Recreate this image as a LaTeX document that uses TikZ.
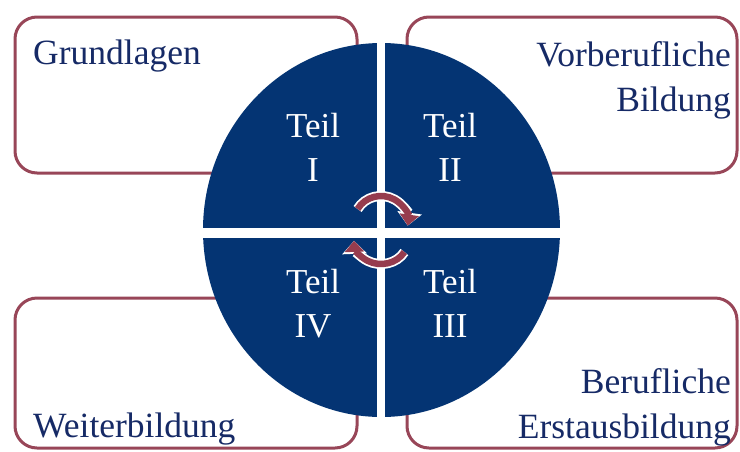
\documentclass[tikz,border=0pt]{standalone}
\usepackage{fontspec}
\setmainfont{Liberation Serif}
\usetikzlibrary{shapes.geometric,arrows.meta}
\definecolor{navy}{RGB}{4,52,115}
\definecolor{txtnavy}{RGB}{22,42,102}
\definecolor{maroon}{RGB}{152,70,88}
\definecolor{arrowred}{RGB}{150,60,78}
\begin{document}
\begin{tikzpicture}[x=1pt,y=-1pt,
  box/.style={draw=maroon, line width=3pt, rounded corners=22pt, fill=white, inner sep=0pt},
  lbl/.style={text=txtnavy, font=\fontsize{35.5}{45}\selectfont, inner sep=0pt},
  teil/.style={text=white, font=\fontsize{35}{44}\selectfont, align=center, inner sep=0pt, anchor=north},
  band/.style={fill=white, draw=none},
  cyc/.style={draw=arrowred, line width=6.5pt, -{Triangle[width=19pt,length=11pt]},
    preaction={draw=white, line width=10pt, -{Triangle[width=24pt,length=13pt]}}}
]
\useasboundingbox (0,0) rectangle (740,451);
% boxes
\node[box, minimum width=342pt, minimum height=156pt] (b1) at (186,95) {};
\node[box, minimum width=330pt, minimum height=156pt] (b2) at (572,95) {};
\node[box, minimum width=342pt, minimum height=150pt] (b4) at (186,373) {};
\node[box, minimum width=330pt, minimum height=150pt] (b3) at (572,373) {};
% labels
\node[lbl, anchor=base west] (l1) at (33,64) {Grundlagen};
\node[lbl, anchor=north east, align=right] (l2) at (731,41) {Vorberufliche\\Bildung};
\node[lbl, anchor=north east, align=right] (l3) at (731,368) {Berufliche\\Erstausbildung};
\node[lbl, anchor=base west] (l4) at (33,437) {Weiterbildung};
% circle
\node[ellipse, fill=navy, draw=none, minimum width=357pt, minimum height=374pt, inner sep=0pt] (circ) at (381.5,230) {};
\fill[band] (377,40) rectangle (384.5,420);
\fill[band] (200,228) rectangle (563,237.5);
% Teil labels
\node[teil] (t1) at (313,113) {Teil\\I};
\node[teil] (t2) at (450,113) {Teil\\II};
\node[teil] (t4) at (313,269) {Teil\\IV};
\node[teil] (t3) at (450,269) {Teil\\III};
% cycle arrows
\coordinate (topstart) at (357.6,209);
\coordinate (botstart) at (404.4,252);
\draw[cyc] (topstart) arc[start angle=210, end angle=368, x radius=27, y radius=26];
\draw[cyc] (botstart) arc[start angle=30, end angle=178, x radius=27, y radius=24];
\end{tikzpicture}
\end{document}
